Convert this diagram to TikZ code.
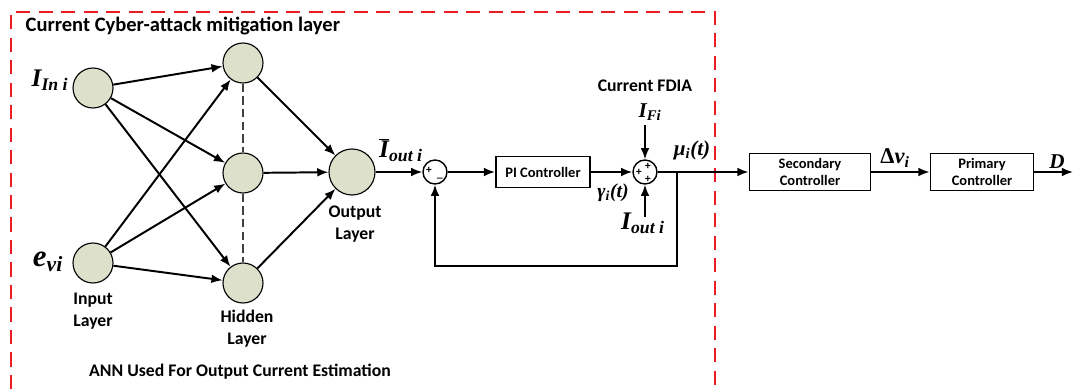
\documentclass[tikz,border=0pt]{standalone}
\usepackage{fontspec}
\setmainfont{Liberation Serif}
\setsansfont{Carlito}
\usetikzlibrary{arrows.meta}
\definecolor{cell}{RGB}{221,224,203}
\definecolor{frame}{RGB}{235,28,36}
\tikzset{
  neuron/.style={circle,draw,line width=0.8pt,fill=cell,minimum size=1cm,inner sep=0pt},
  sumnode/.style={circle,draw,line width=1pt,minimum size=0.6cm,inner sep=0pt},
  block/.style={draw,line width=1.3pt,font=\sffamily\bfseries\fontsize{10.3}{12}\selectfont,align=center},
  caption/.style={font=\sffamily\bfseries\fontsize{12.6}{15.5}\selectfont,align=center},
  var/.style={font=\bfseries\itshape\fontsize{18}{20}\selectfont,inner sep=1pt},
  sgn/.style={font=\sffamily\bfseries\fontsize{8}{8}\selectfont,inner sep=0pt},
}

\begin{document}
\begin{tikzpicture}[line width=1.4pt,>={Latex[length=2.8mm,width=2.2mm]}]
  \useasboundingbox (0,0) rectangle (26.825,-9.725);
  % mitigation layer frame
  \draw[frame,line width=0.9pt,dash pattern=on 10pt off 6pt] (0.275,-9.725) -- (0.275,-0.3) -- (17.875,-0.3) -- (17.875,-9.725);
  \node[caption,anchor=west] (title) at (0.5,-0.65) {\fontsize{14.6}{17}\selectfont Current Cyber-attack mitigation layer};

  % ANN
  \node[neuron] (inA) at (2.325,-2.2) {}; \node[neuron] (inB) at (2.325,-6.575) {};
  \node[neuron] (h1) at (6.075,-1.575) {}; \node[neuron] (h2) at (6.075,-4.325) {};
  \node[neuron] (h3) at (6.075,-7.075) {};
  \node[neuron,minimum size=1.15cm] (out) at (8.8,-4.3) {};
  \draw[gray!50!black,line width=0.8pt,dash pattern=on 6pt off 3pt] (h1) -- (h2) -- (h3);
  \draw[->] (inA) -- (h1); \draw[->] (inA) -- (h2); \draw[->] (inA) -- (h3);
  \draw[->] (inB) -- (h1); \draw[->] (inB) -- (h2); \draw[->] (inB) -- (h3);
  \draw[->] (h1) -- (out); \draw[->] (h2) -- (out); \draw[->] (h3) -- (out);
  \node[var] (lIn) at (1.25,-2.0) {I\textsubscript{In i}};
  \node[var,font=\bfseries\itshape\fontsize{22}{24}\selectfont] (lev) at (1.2,-6.55) {e\textsubscript{vi}};
  \node[caption] (lInput) at (2.325,-7.775) {Input\\Layer};
  \node[caption] (lHidden) at (6.175,-8.225) {Hidden\\Layer};
  \node[caption] (lOutput) at (8.875,-5.6) {Output\\Layer};
  \node[caption] (lANN) at (6.0,-9.3) {ANN Used For Output Current Estimation};

  % estimation loop
  \node[sumnode] (s1) at (10.875,-4.3) {};
  \node[sgn] at (10.72,-4.25) {+}; \node[sgn] at (11.0,-4.45) {\_};
  \node[block,minimum width=2.35cm,minimum height=0.775cm] (pi) at (13.575,-4.3) {PI Controller};
  \node[sumnode] (s2) at (16.125,-4.3) {};
  \node[sgn] at (15.97,-4.3) {+}; \node[sgn] at (16.2,-4.15) {+}; \node[sgn] at (16.2,-4.48) {+};
  \coordinate (br) at (16.925,-4.3);
  \coordinate (fb) at (10.875,-6.65);
  \coordinate (fdiaIn) at (16.125,-3.125);
  \coordinate (curIn) at (16.125,-5.425);
  \draw[->] (out) -- (s1); \draw[->] (s1) -- (pi); \draw[->] (pi) -- (s2);
  \draw[->] (fdiaIn) -- (s2); \draw[->] (curIn) -- (s2);
  \draw[->] (br) |- (fb) -- (s1);
  \node[var] (lIout) at (10.025,-3.75) {$\overline{\mbox{I}}$\textsubscript{out i}};
  \node[caption] (lFDIA) at (16.125,-2.15) {Current FDIA};
  \node[var,font=\bfseries\itshape\fontsize{15}{17}\selectfont] (lIF) at (16.25,-2.8) {I\textsubscript{Fi}};
  \node[var] (lIo) at (16.075,-5.575) {I\textsubscript{out i}};
  \node[var,font=\bfseries\itshape\fontsize{14}{16}\selectfont] (lgam) at (15.325,-4.825) {γ\textsubscript{i}(t)};
  \node[var,font=\bfseries\itshape\fontsize{15}{17}\selectfont] (lmu) at (17.3,-3.75) {μ\textsubscript{i}(t)};

  % control chain
  \node[block,minimum width=3.025cm,minimum height=0.925cm] (sec) at (20.25,-4.3) {Secondary\\Controller};
  \node[block,minimum width=2.575cm,minimum height=0.925cm] (prim) at (24.55,-4.3) {Primary\\Controller};
  \coordinate (dEnd) at (26.825,-4.3);
  \draw[->] (s2) -- (sec); \draw[->] (sec) -- (prim); \draw[->] (prim) -- (dEnd);
  \node[var,font=\bfseries\itshape\fontsize{16}{18}\selectfont] (ldv) at (22.375,-3.95) {\textup{Δ}v\textsubscript{i}};
  \node[var,font=\bfseries\itshape\fontsize{15}{17}\selectfont] (lD) at (26.425,-4.05) {D};
\end{tikzpicture}
\end{document}
